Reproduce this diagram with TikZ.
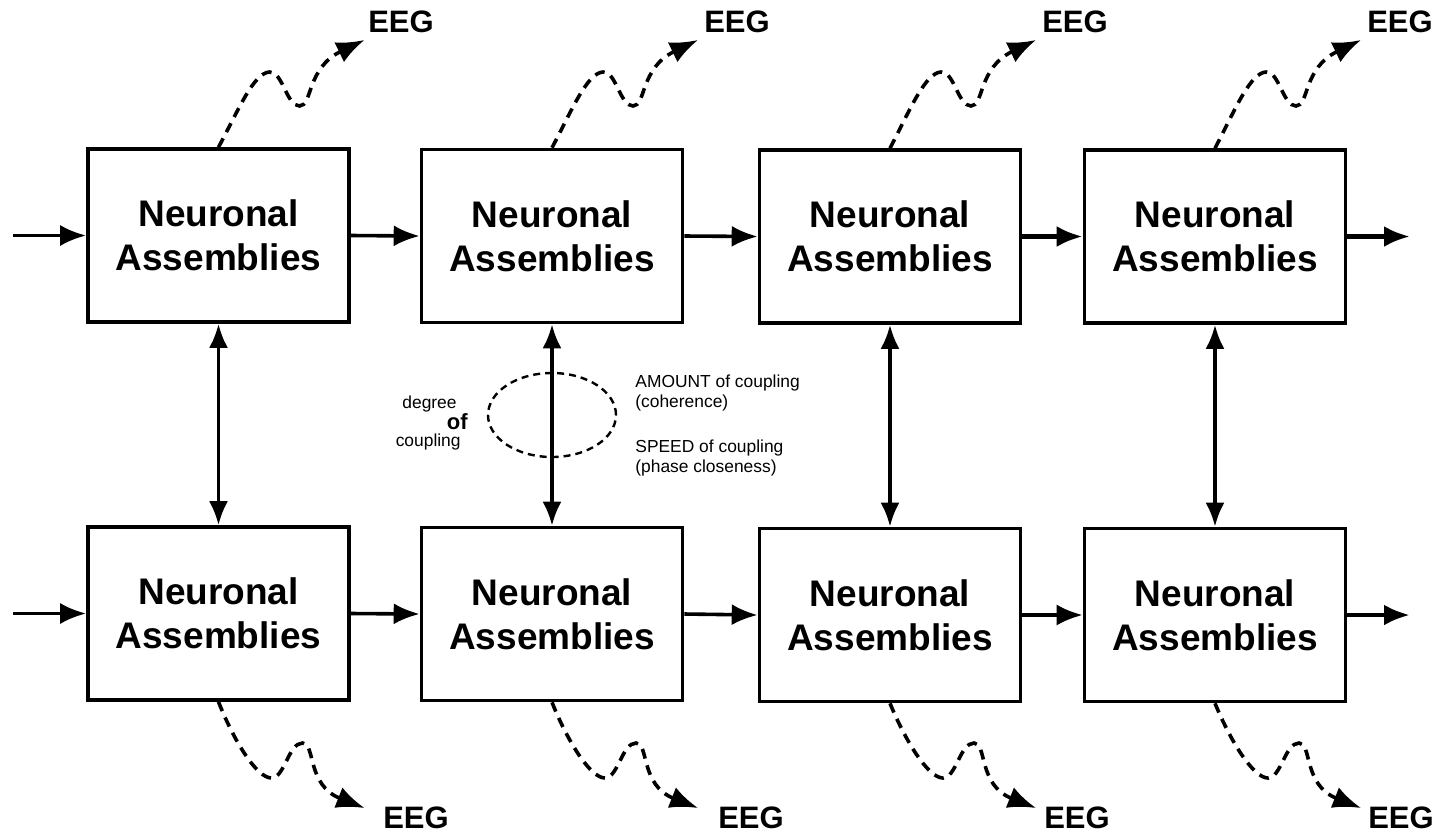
\documentclass[tikz,border=0pt]{standalone}
\usepackage{fontspec}
\setmainfont{Liberation Sans}
\usetikzlibrary{arrows.meta,shapes.geometric}
\tikzset{
  box/.style={draw, line width=1.8pt, minimum width=130.5pt, minimum height=86.5pt, inner sep=0pt, align=center, font=\fontsize{18.5}{22}\selectfont\bfseries},
  flow/.style={line width=1.8pt, -{Latex[length=13pt,width=10.5pt]}},
  flowb/.style={flow, line width=2.4pt},
  link/.style={line width=1.8pt, {Latex[length=12pt,width=9.5pt]}-{Latex[length=12pt,width=9.5pt]}},
  eeg/.style={line width=1.8pt, dash pattern=on 5pt off 3.5pt, -{Latex[length=14pt,width=11pt]}},
  eegl/.style={font=\fontsize{15.5}{18}\selectfont\bfseries, inner sep=0pt},
  note/.style={font=\fontsize{8.7}{10}\selectfont, inner sep=0pt},
}
\begin{document}
\begin{tikzpicture}[x=0.5pt,y=-0.5pt]
\fill[white] (0,0) rectangle (1441,837);
\useasboundingbox (0,0) rectangle (1441,837);
% boxes
\node[box] (t1) at (218.5,235.5) {Neuronal\\Assemblies};
\node[box] (t2) at (552,236) {Neuronal\\Assemblies};
\node[box] (t3) at (890,236.5) {Neuronal\\Assemblies};
\node[box] (t4) at (1215,236.5) {Neuronal\\Assemblies};
\node[box] (b1) at (218.5,613.5) {Neuronal\\Assemblies};
\node[box] (b2) at (552,614) {Neuronal\\Assemblies};
\node[box] (b3) at (890,615) {Neuronal\\Assemblies};
\node[box] (b4) at (1215,615) {Neuronal\\Assemblies};
% inputs / outputs
\coordinate (ti) at (13,235.5);
\coordinate (bi) at (13,613.5);
\coordinate (to) at (1410,236.5);
\coordinate (bo) at (1410,615);
\draw[flow] (ti) -- (t1.west);
\draw[flow] (t1.east) -- (t2.west);
\draw[flow] (t2.east) -- (t3.west);
\draw[flowb] (t3.east) -- (t4.west);
\draw[flowb] (t4.east) -- (to);
\draw[flow] (bi) -- (b1.west);
\draw[flow] (b1.east) -- (b2.west);
\draw[flow] (b2.east) -- (b3.west);
\draw[flow] (b3.east) -- (b4.west);
\draw[flowb] (b4.east) -- (bo);
% coupling ellipse
\node[ellipse, draw, line width=1.2pt, dash pattern=on 3.5pt off 2.5pt, minimum width=64pt, minimum height=42pt, inner sep=0pt] (coup) at (552,415) {};
% vertical links
\draw[link] (t1.south) -- (b1.north);
\draw[link] (t2.south) -- (b2.north);
\draw[link] (t3.south) -- (b3.north);
\draw[link] (t4.south) -- (b4.north);
% notes
\node[note, anchor=east] (n1) at (457,404) {degree};
\node[note, anchor=east, font=\fontsize{11}{12}\selectfont\bfseries] (n2) at (468,422) {of};
\node[note, anchor=east] (n3) at (461,442) {coupling};
\node[note, anchor=west] (r1) at (635,383) {AMOUNT of coupling};
\node[note, anchor=west] (r2) at (635,403) {(coherence)};
\node[note, anchor=west] (r3) at (635,448) {SPEED of coupling};
\node[note, anchor=west] (r4) at (635,468) {(phase closeness)};
% EEG top
\foreach \i/\c/\ex in {1/218.5/401, 2/552/737, 3/890/1075, 4/1215/1400}{
  \node[eegl] (et\i) at (\ex,22) {EEG};
  \coordinate (at\i) at ({\c+146},40);
  \draw[eeg] (t\i.north) .. controls ({\c+20},110) and ({\c+35},73) .. ({\c+51},72)
     .. controls ({\c+64},71) and ({\c+68},106) .. ({\c+81},106)
     .. controls ({\c+94},106) and ({\c+88},68) .. (at\i);
}
% EEG bottom
\foreach \i/\c/\ex in {1/218.5/416, 2/552/751, 3/890/1077, 4/1215/1401}{
  \node[eegl] (eb\i) at (\ex,818) {EEG};
  \coordinate (ab\i) at ({\c+146},808);
  \draw[eeg] (b\i.south) .. controls ({\c+15},740) and ({\c+38},778) .. ({\c+53},778)
     .. controls ({\c+66},778) and ({\c+70},743) .. ({\c+84},743)
     .. controls ({\c+97},743) and ({\c+88},785) .. (ab\i);
}
\end{tikzpicture}
\end{document}
